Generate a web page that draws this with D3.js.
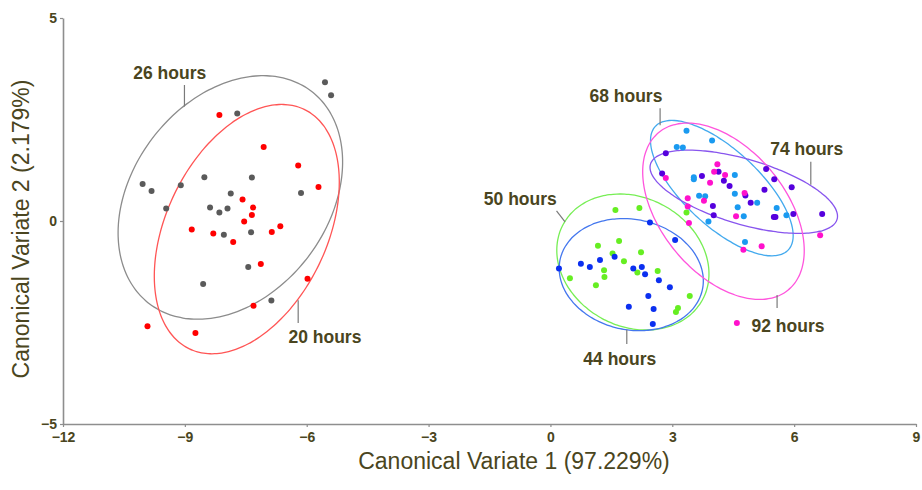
<!DOCTYPE html>
<html>
<head>
<meta charset="utf-8">
<script src="https://cdn.jsdelivr.net/npm/d3@7"></script>
<style>
  body { margin: 0; background: #fff; }
  #chart text { font-family: "Liberation Sans", Arial, sans-serif; }
</style>
</head>
<body>
<div id="chart"></div>
<script>
const groups = ["20 hours", "26 hours", "44 hours", "50 hours", "68 hours", "74 hours", "92 hours"];

const points20 = [
  [-8.15, 2.61], [-7.06, 1.82], [-6.21, 1.37], [-5.71, 0.84], [-7.58, 0.53], [-7.32, 0.33],
  [-7.35, 0.15], [-7.54, -0.01], [-8.83, -0.21], [-8.30, -0.31], [-7.81, -0.52], [-6.86, -0.27],
  [-6.65, -0.13], [-7.13, -1.06], [-5.98, -1.42], [-7.31, -2.09], [-9.92, -2.59], [-8.74, -2.76]
];
const points26 = [
  [-5.55, 3.42], [-5.40, 3.10], [-7.71, 2.65], [-8.52, 1.08], [-7.35, 1.07], [-10.04, 0.91],
  [-9.82, 0.74], [-9.10, 0.88], [-7.87, 0.68], [-6.14, 0.69], [-9.46, 0.31], [-8.38, 0.33],
  [-8.15, 0.21], [-7.95, 0.31], [-8.04, -0.34], [-7.37, -0.28], [-7.44, -1.13], [-8.55, -1.55],
  [-6.87, -1.96]
];
const points44 = [
  [2.45, -0.04], [3.07, -0.47], [1.58, -0.88], [1.22, -0.96], [0.75, -1.05], [0.97, -1.13],
  [0.21, -1.17], [2.04, -1.17], [2.25, -1.13], [2.33, -1.31], [2.67, -1.46], [2.94, -1.63],
  [2.41, -1.85], [1.93, -2.11], [2.54, -2.17], [2.52, -2.54]
];
const points50 = [
  [1.60, 0.27], [2.19, 0.32], [3.35, 0.21], [1.17, -0.61], [1.69, -0.49], [1.53, -0.80],
  [2.23, -0.77], [1.81, -0.99], [1.32, -1.21], [1.33, -1.38], [2.14, -1.27], [2.64, -1.23],
  [0.48, -1.41], [1.12, -1.58], [3.43, -1.85], [3.14, -2.14], [3.09, -2.24]
];
const points68 = [
  [3.35, 2.22], [3.98, 1.98], [3.11, 1.82], [3.26, 1.81], [3.53, 1.08], [3.53, 1.03],
  [4.54, 1.13], [3.66, 0.62], [3.81, 0.61], [4.54, 0.67], [4.61, 0.34], [5.09, 0.45],
  [5.57, 0.32], [4.76, 0.12], [5.81, 0.14], [3.89, -0.01], [4.79, -0.52]
];
const points74 = [
  [2.84, 1.67], [2.75, 1.17], [3.73, 1.11], [4.14, 1.21], [4.27, 0.99], [4.41, 0.86],
  [5.31, 1.28], [5.51, 1.03], [5.94, 0.83], [5.27, 0.77], [4.80, 0.63], [4.93, 0.45],
  [4.00, 0.37], [4.02, 0.14], [5.50, 0.10], [5.54, 0.10], [5.98, 0.17], [6.69, 0.17]
];
const points92 = [
  [4.11, 1.40], [4.03, 1.21], [4.30, 1.13], [2.84, 1.06], [3.93, 0.94], [4.78, 0.69],
  [3.38, 0.56], [3.78, 0.50], [3.38, 0.36], [4.57, 0.12], [3.41, -0.05], [5.20, -0.62],
  [4.75, -0.71], [6.64, -0.35], [4.59, -2.51]
];

// ellipse centre, semi-axes and tilt (degrees, counter-clockwise), in group order
const ellipseCenters = [[-7.475, -0.20], [-7.88, 0.58], [1.99, -1.32], [2.03, -1.01], [4.22, 0.81], [4.76, 0.72], [4.26, 0.24]];
const ellipseRadii = [[3.27, 1.98], [3.29, 2.41], [1.79, 1.36], [1.95, 1.585], [2.234, 0.935], [2.395, 0.80], [2.51, 1.54]];
const ellipseAngles = [64.4, 52.85, -11.8, -28.5, -42.9, -16.5, -50.6];

const pointColors = ["#ff0000", "#5a5a5a", "#0b2ff0", "#66ee22", "#1a9af0", "#5500dd", "#ff11cc"];
const ellipseColors = ["#ff5555", "#8c8c8c", "#4477ee", "#77ee55", "#44aaee", "#8855ee", "#ff55dd"];

// label text start (x, baseline y) and leader line, in data units
const labelAnchors = [[-6.45, -3.01], [-10.27, 3.50], [0.81, -3.55], [-1.64, 0.39], [0.96, 2.94], [5.41, 1.63], [4.95, -2.73]];
const leaderLines = [
  [-6.21, -1.95, -6.21, -2.51], [-9.01, 3.35, -9.01, 2.82], [1.88, -2.68, 1.88, -3.03],
  [0.15, 0.25, 0.36, -0.02], [2.70, 2.78, 2.70, 2.36], [6.41, 1.46, 6.41, 0.89], [5.58, -1.82, 5.58, -2.14]
];

const xTicks = [-12, -9, -6, -3, 0, 3, 6, 9];
const yTicks = [-5, 0, 5];
const xTitle = "Canonical Variate 1 (97.229%)";
const yTitle = "Canonical Variate 2 (2.179%)";

const drawOrder = [1, 0, 3, 2, 4, 5, 6];
const pointSets = [points20, points26, points44, points50, points68, points74, points92];

const width = 922;
const height = 490;
const margin = { top: 18, right: 6, bottom: 66, left: 63 };
const textColor = "#4a4520";
const axisColor = "#8e8e8e";

const xScale = d3
  .scaleLinear()
  .domain([-12, 9])
  .range([margin.left, width - margin.right]);

const yScale = d3
  .scaleLinear()
  .domain([-5, 5])
  .range([height - margin.bottom, margin.top]);

const svg = d3
  .select("#chart")
  .append("svg")
  .attr("width", width)
  .attr("height", height);

// axes

const xAxis = svg
  .append("g")
  .attr("transform", "translate(0," + yScale(-5) + ")")
  .call(d3.axisBottom(xScale).tickValues(xTicks).tickSize(3).tickSizeOuter(0).tickPadding(5));

const yAxis = svg
  .append("g")
  .attr("transform", "translate(" + xScale(-12) + ",0)")
  .call(d3.axisLeft(yScale).tickValues(yTicks).tickSize(3).tickSizeOuter(0).tickPadding(3));

[xAxis, yAxis].forEach(g => {
  g.select(".domain").attr("stroke", axisColor).attr("stroke-width", 1.6);
  g.selectAll(".tick line").attr("stroke", axisColor).attr("stroke-width", 1.2);
  g.selectAll(".tick text")
    .attr("fill", textColor)
    .style("font-size", "14px")
    .style("font-weight", "bold");
});

svg
  .append("text")
  .attr("x", 514)
  .attr("y", 469)
  .attr("text-anchor", "middle")
  .attr("fill", textColor)
  .style("font-size", "23px")
  .text(xTitle);

svg
  .append("text")
  .attr("transform", "translate(29,229) rotate(-90)")
  .attr("text-anchor", "middle")
  .attr("fill", textColor)
  .style("font-size", "23px")
  .text(yTitle);

// ellipses

const ellipsePath = i => {
  const [cx, cy] = ellipseCenters[i];
  const [a, b] = ellipseRadii[i];
  const phi = (ellipseAngles[i] * Math.PI) / 180;
  const pts = d3.range(0, 120).map(k => {
    const t = (k / 120) * 2 * Math.PI;
    return [
      cx + a * Math.cos(t) * Math.cos(phi) - b * Math.sin(t) * Math.sin(phi),
      cy + a * Math.cos(t) * Math.sin(phi) + b * Math.sin(t) * Math.cos(phi)
    ];
  });
  return d3
    .line()
    .x(d => xScale(d[0]))
    .y(d => yScale(d[1]))
    .curve(d3.curveCardinalClosed)(pts);
};

svg
  .append("g")
  .selectAll("path")
  .data(drawOrder)
  .enter()
  .append("path")
  .attr("d", i => ellipsePath(i))
  .attr("fill", "none")
  .attr("stroke", i => ellipseColors[i])
  .attr("stroke-width", 1.3);

// points

drawOrder.forEach(i => {
  svg
    .append("g")
    .selectAll("circle")
    .data(pointSets[i])
    .enter()
    .append("circle")
    .attr("cx", d => xScale(d[0]))
    .attr("cy", d => yScale(d[1]))
    .attr("r", 3)
    .attr("fill", pointColors[i]);
});

// labels

svg
  .append("g")
  .selectAll("line")
  .data(leaderLines)
  .enter()
  .append("line")
  .attr("x1", d => xScale(d[0]))
  .attr("y1", d => yScale(d[1]))
  .attr("x2", d => xScale(d[2]))
  .attr("y2", d => yScale(d[3]))
  .attr("stroke", "#7a7a7a")
  .attr("stroke-width", 1.2);

svg
  .append("g")
  .selectAll("text")
  .data(groups)
  .enter()
  .append("text")
  .attr("x", (d, i) => xScale(labelAnchors[i][0]))
  .attr("y", (d, i) => yScale(labelAnchors[i][1]))
  .attr("fill", textColor)
  .style("font-size", "17.5px")
  .style("font-weight", "bold")
  .text(d => d);
</script>
</body>
</html>
